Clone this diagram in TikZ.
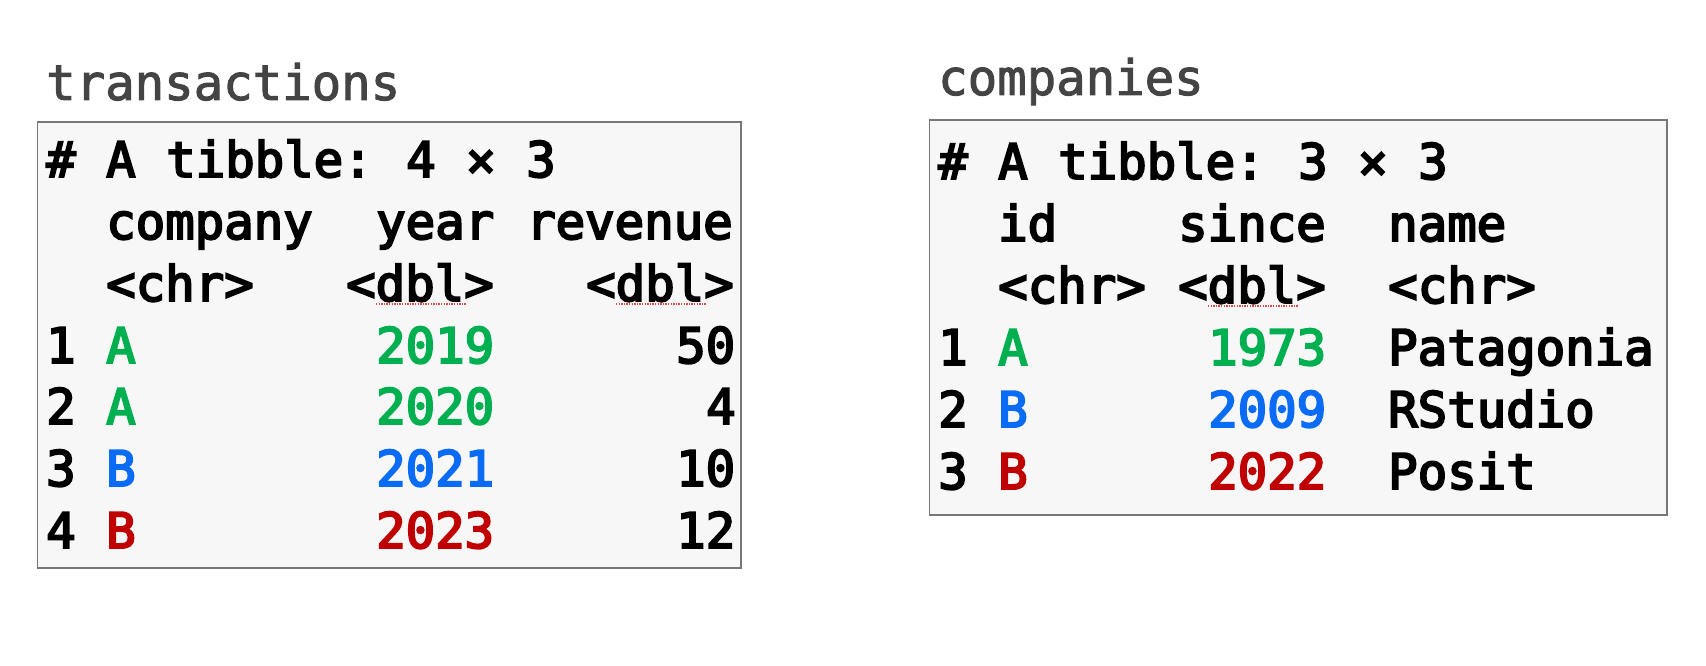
\documentclass[tikz,border=0pt]{standalone}
\usepackage{fontspec}
\setmonofont{DejaVu Sans Mono}
\newfontfamily\titlefont[FakeBold=2]{DejaVu Sans Mono}
\newfontfamily\cellfont[FakeBold=4]{DejaVu Sans Mono}
\definecolor{grn}{HTML}{00B050}
\definecolor{blu}{HTML}{0A6CF5}
\definecolor{rd}{HTML}{C00000}
\definecolor{ttl}{HTML}{444444}
\definecolor{boxfill}{HTML}{F7F7F7}
\definecolor{boxline}{HTML}{777777}
\definecolor{squig}{HTML}{E04848}
\begin{document}
\begin{tikzpicture}[x=1pt,y=-1pt,
  cell/.style={anchor=base west,inner sep=0pt,font=\cellfont\fontsize{49}{58}\selectfont},
  title/.style={anchor=base west,inner sep=0pt,text=ttl,font=\titlefont\fontsize{49}{58}\selectfont},
  tbox/.style={draw=boxline,fill=boxfill,line width=1.5pt},
  spell/.style={draw=squig,line width=1.3pt,dash pattern=on 1.3pt off 1.3pt}]
\useasboundingbox (0,0) rectangle (1706,666);
% boxes
\draw[tbox] (37.3,122) rectangle (741,568);
\draw[tbox] (929.3,120) rectangle (1667,515);
% titles
\node[title] (ttrans) at (46,100) {transactions};
\node[title] (tcomp) at (938,95) {companies};
% ---- left table (x0 = 46, pitch 30)
\node[cell] (l00) at ({46+0*30},177) {\#};
\node[cell] (l01) at ({46+2*30},177) {A};
\node[cell] (l02) at ({46+4*30},177) {tibble:};
\node[cell] (l03) at ({46+12*30},177) {4};
\node[cell] (l04) at ({46+14*30},177) {×};
\node[cell] (l05) at ({46+16*30},177) {3};
\node[cell] (l11) at ({46+2*30},239) {company};
\node[cell] (l12) at ({46+11*30},239) {year};
\node[cell] (l13) at ({46+16*30},239) {revenue};
\node[cell] (l21) at ({46+2*30},301) {<chr>};
\node[cell] (l22) at ({46+10*30},301) {<dbl>};
\node[cell] (l23) at ({46+18*30},301) {<dbl>};
\node[cell] (l30) at ({46+0*30},363) {1};
\node[cell,text=grn] (l31) at ({46+2*30},363) {A};
\node[cell,text=grn] (l32) at ({46+11*30},363) {2019};
\node[cell] (l33) at ({46+21*30},363) {50};
\node[cell] (l40) at ({46+0*30},424) {2};
\node[cell,text=grn] (l41) at ({46+2*30},424) {A};
\node[cell,text=grn] (l42) at ({46+11*30},424) {2020};
\node[cell] (l43) at ({46+22*30},424) {4};
\node[cell] (l50) at ({46+0*30},486) {3};
\node[cell,text=blu] (l51) at ({46+2*30},486) {B};
\node[cell,text=blu] (l52) at ({46+11*30},486) {2021};
\node[cell] (l53) at ({46+21*30},486) {10};
\node[cell] (l60) at ({46+0*30},548) {4};
\node[cell,text=rd] (l61) at ({46+2*30},548) {B};
\node[cell,text=rd] (l62) at ({46+11*30},548) {2023};
\node[cell] (l63) at ({46+21*30},548) {12};
% ---- right table (x0 = 938)
\node[cell] (r00) at ({938+0*30},179) {\#};
\node[cell] (r01) at ({938+2*30},179) {A};
\node[cell] (r02) at ({938+4*30},179) {tibble:};
\node[cell] (r03) at ({938+12*30},179) {3};
\node[cell] (r04) at ({938+14*30},179) {×};
\node[cell] (r05) at ({938+16*30},179) {3};
\node[cell] (r11) at ({938+2*30},241) {id};
\node[cell] (r12) at ({938+8*30},241) {since};
\node[cell] (r13) at ({938+15*30},241) {name};
\node[cell] (r21) at ({938+2*30},303) {<chr>};
\node[cell] (r22) at ({938+8*30},303) {<dbl>};
\node[cell] (r23) at ({938+15*30},303) {<chr>};
\node[cell] (r30) at ({938+0*30},365) {1};
\node[cell,text=grn] (r31) at ({938+2*30},365) {A};
\node[cell,text=grn] (r32) at ({938+9*30},365) {1973};
\node[cell] (r33) at ({938+15*30},365) {Patagonia};
\node[cell] (r40) at ({938+0*30},427) {2};
\node[cell,text=blu] (r41) at ({938+2*30},427) {B};
\node[cell,text=blu] (r42) at ({938+9*30},427) {2009};
\node[cell] (r43) at ({938+15*30},427) {RStudio};
\node[cell] (r50) at ({938+0*30},489) {3};
\node[cell,text=rd] (r51) at ({938+2*30},489) {B};
\node[cell,text=rd] (r52) at ({938+9*30},489) {2022};
\node[cell] (r53) at ({938+15*30},489) {Posit};
% spell-check underlines under "dbl"
\draw[spell] ([xshift=30pt,yshift=-3pt]l22.base west) -- ([xshift=120pt,yshift=-3pt]l22.base west);
\draw[spell] ([xshift=30pt,yshift=-3pt]l23.base west) -- ([xshift=120pt,yshift=-3pt]l23.base west);
\draw[spell] ([xshift=30pt,yshift=-3pt]r22.base west) -- ([xshift=120pt,yshift=-3pt]r22.base west);
\end{tikzpicture}
\end{document}
